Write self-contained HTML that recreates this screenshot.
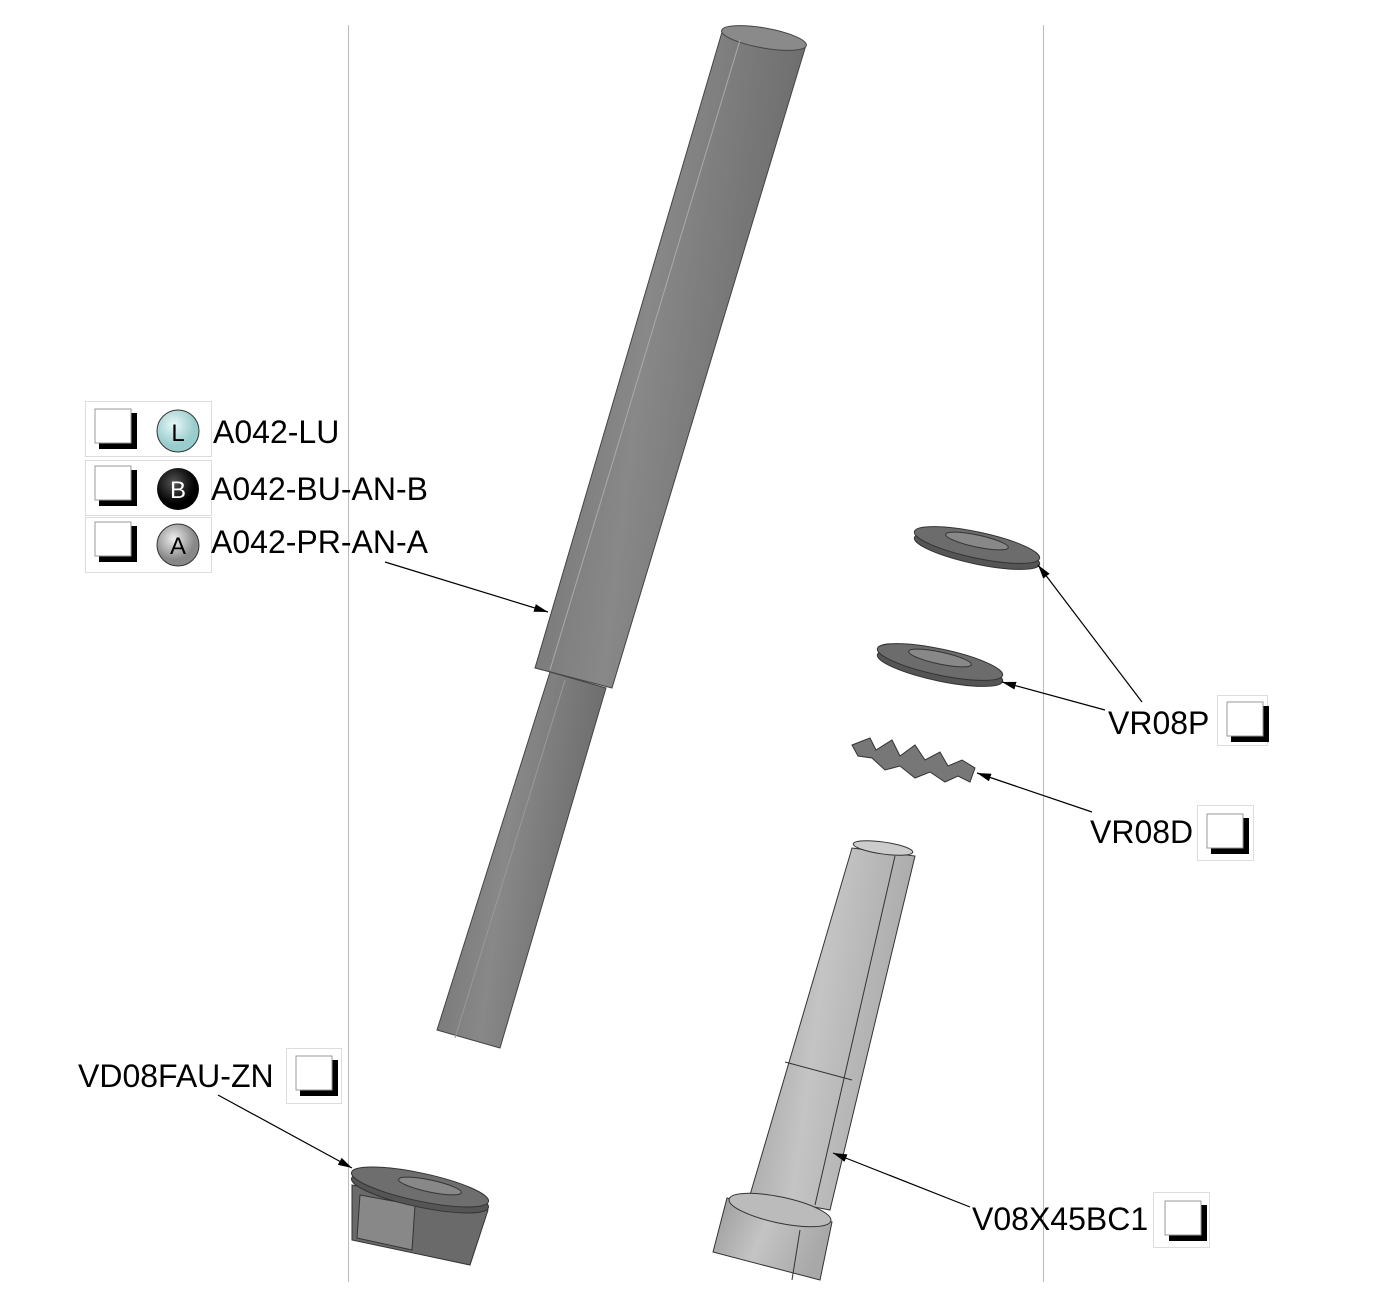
<!DOCTYPE html>
<html><head><style>
body{margin:0;background:#fff;}
svg{display:block}
text{font-family:"Liberation Sans",sans-serif;}
</style></head><body>
<svg width="1390" height="1311" viewBox="0 0 1390 1311" xmlns="http://www.w3.org/2000/svg">
<defs>
<linearGradient id="rod" x1="0" y1="0" x2="1" y2="0.3">
<stop offset="0" stop-color="#6e6e6e"/><stop offset="0.5" stop-color="#888"/><stop offset="1" stop-color="#6a6a6a"/></linearGradient>
<linearGradient id="bolt" x1="0" y1="0" x2="1" y2="0.3">
<stop offset="0" stop-color="#999"/><stop offset="0.5" stop-color="#c4c4c4"/><stop offset="1" stop-color="#a8a8a8"/></linearGradient>
<radialGradient id="gA" cx="0.4" cy="0.35"><stop offset="0" stop-color="#eee"/><stop offset="1" stop-color="#888"/></radialGradient>
<radialGradient id="gB" cx="0.4" cy="0.35"><stop offset="0" stop-color="#555"/><stop offset="1" stop-color="#000"/></radialGradient>
<radialGradient id="gL" cx="0.4" cy="0.35"><stop offset="0" stop-color="#e8f8f8"/><stop offset="1" stop-color="#9cc"/></radialGradient>
<marker id="ar" markerWidth="14" markerHeight="8" refX="14" refY="4" orient="auto" markerUnits="userSpaceOnUse"><path d="M0,0 L14,4 L0,8 z" fill="#000"/></marker>
</defs>
<line x1="348.5" y1="25" x2="348.5" y2="1282" stroke="#bbb"/>
<line x1="1043.5" y1="25" x2="1043.5" y2="1282" stroke="#bbb"/>

<!-- rod -->
<polygon points="722,32 806,45 612,688 535,668" fill="url(#rod)" stroke="#444"/>
<polygon points="550,672 606,688 500,1048 437,1030" fill="url(#rod)" stroke="#444"/>
<ellipse cx="764" cy="38" rx="43" ry="10" transform="rotate(10 764 38)" fill="#8a8a8a" stroke="#444"/>
<line x1="740" y1="40" x2="550" y2="670" stroke="#aaa"/>
<line x1="565" y1="680" x2="455" y2="1038" stroke="#999"/>

<!-- washers -->
<ellipse cx="977" cy="551" rx="64" ry="13" transform="rotate(12 977 551)" fill="#555" stroke="#333"/>
<ellipse cx="977" cy="545" rx="64" ry="13" transform="rotate(12 977 545)" fill="#6c6c6c" stroke="#333"/>
<ellipse cx="977" cy="541" rx="32" ry="6" transform="rotate(12 977 541)" fill="#888" stroke="#333"/>
<ellipse cx="940" cy="668" rx="64" ry="13" transform="rotate(12 940 668)" fill="#555" stroke="#333"/>
<ellipse cx="940" cy="662" rx="64" ry="13" transform="rotate(12 940 662)" fill="#6c6c6c" stroke="#333"/>
<ellipse cx="940" cy="658" rx="32" ry="6" transform="rotate(12 940 658)" fill="#888" stroke="#333"/>
<!-- spring washer -->
<path d="M852,745 L870,738 L876,750 L892,740 L900,756 L915,745 L925,760 L940,752 L948,766 L962,760 L975,768 L970,782 L958,776 L945,782 L930,772 L915,778 L900,766 L885,770 L872,758 L858,756 z" fill="#777" stroke="#333"/>

<!-- bolt -->
<polygon points="852,848 915,856 830,1210 750,1195" fill="url(#bolt)" stroke="#333"/>
<ellipse cx="883" cy="848" rx="30" ry="6" transform="rotate(8 883 848)" fill="#ccc" stroke="#333"/>
<line x1="895" y1="856" x2="815" y2="1205" stroke="#333"/>
<line x1="785" y1="1062" x2="852" y2="1080" stroke="#333"/>
<path d="M727,1198 L832,1222 L820,1280 L713,1252 z" fill="url(#bolt)" stroke="#333"/>
<ellipse cx="780" cy="1210" rx="52" ry="13" transform="rotate(12 780 1210)" fill="#bbb" stroke="#333"/>
<line x1="800" y1="1230" x2="792" y2="1280" stroke="#333"/>

<!-- nut -->
<path d="M352,1185 L488,1210 L470,1265 L352,1240 z" fill="#6a6a6a" stroke="#333"/>
<polygon points="360,1195 415,1205 412,1250 357,1238" fill="#888" stroke="#333"/>
<ellipse cx="420" cy="1193" rx="70" ry="14" transform="rotate(12 420 1193)" fill="#555" stroke="#333"/>
<ellipse cx="420" cy="1187" rx="70" ry="14" transform="rotate(12 420 1187)" fill="#6e6e6e" stroke="#333"/>
<ellipse cx="430" cy="1186" rx="32" ry="6" transform="rotate(12 430 1186)" fill="#888" stroke="#333"/>

<!-- leaders -->
<g stroke="#000" stroke-width="1.2" fill="none" marker-end="url(#ar)">
<line x1="385" y1="562" x2="548" y2="612"/>
<line x1="1142" y1="702" x2="1038" y2="565"/>
<line x1="1105" y1="710" x2="1002" y2="682"/>
<line x1="1092" y1="812" x2="977" y2="773"/>
<line x1="970" y1="1207" x2="833" y2="1153"/>
<line x1="218" y1="1095" x2="352" y2="1168"/>
</g>

<!-- legend boxes -->
<g fill="none" stroke="#ddd">
<rect x="85.5" y="401.5" width="126" height="55"/>
<rect x="85.5" y="460.5" width="126" height="55"/>
<rect x="85.5" y="517.5" width="126" height="55"/>
<rect x="1217.5" y="695.5" width="50" height="50"/>
<rect x="1197.5" y="805.5" width="56" height="55"/>
<rect x="286.5" y="1048.5" width="55" height="55"/>
<rect x="1153.5" y="1192.5" width="56" height="55"/>
</g>
<g>
<g fill="#000"><rect x="99" y="413" width="38" height="36"/><rect x="99" y="470" width="38" height="36"/><rect x="99" y="526" width="38" height="36"/><rect x="1231" y="706" width="38" height="36"/><rect x="1211" y="818" width="38" height="36"/><rect x="300" y="1060" width="38" height="36"/><rect x="1169" y="1205" width="38" height="36"/></g>
<g fill="#fff" stroke="#999"><rect x="95" y="409" width="36" height="34"/><rect x="95" y="466" width="36" height="34"/><rect x="95" y="522" width="36" height="34"/><rect x="1227" y="702" width="36" height="34"/><rect x="1207" y="814" width="36" height="34"/><rect x="296" y="1056" width="36" height="34"/><rect x="1165" y="1201" width="36" height="34"/></g>
</g>
<circle cx="178" cy="431" r="21" fill="url(#gL)" stroke="#333"/>
<circle cx="178" cy="489" r="21" fill="url(#gB)"/>
<circle cx="178" cy="545" r="21" fill="url(#gA)" stroke="#333"/>
<text x="178" y="441" font-size="24" text-anchor="middle" fill="#000">L</text>
<text x="178" y="498" font-size="24" text-anchor="middle" fill="#fff">B</text>
<text x="178" y="554" font-size="24" text-anchor="middle" fill="#000">A</text>

<g font-size="32" fill="#000">
<text x="213" y="443">A042-LU</text>
<text x="211" y="500">A042-BU-AN-B</text>
<text x="211" y="553">A042-PR-AN-A</text>
<text x="1108" y="734">VR08P</text>
<text x="1090" y="843">VR08D</text>
<text x="78" y="1087">VD08FAU-ZN</text>
<text x="972" y="1230">V08X45BC1</text>
</g>
</svg>
</body></html>
